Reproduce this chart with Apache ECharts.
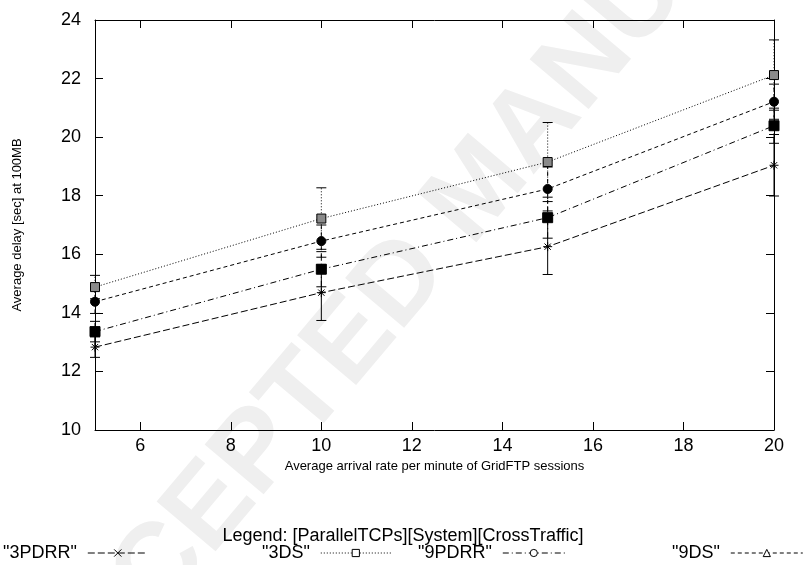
<!DOCTYPE html>
<html>
<head>
<meta charset="utf-8">
<script src="https://cdn.jsdelivr.net/npm/echarts@6/dist/echarts.min.js"></script>
<style>
html, body { margin: 0; padding: 0; background: #fff; }
#chart { width: 806px; height: 565px; }
</style>
</head>
<body>
<div id="chart"></div>
<script>
// arrival rate (sessions per minute)
const rates = [5, 10, 15, 20];
const xTicks = [6, 8, 10, 12, 14, 16, 18, 20];
const seriesNames = ['"3PDRR"', '"3DS"', '"9PDRR"', '"9DS"'];

// average delay [sec]
const delay3PDRR = [12.83, 14.69, 16.26, 19.04];
const delay3DS = [14.88, 17.22, 19.15, 22.12];
const delay9PDRR = [13.36, 15.49, 17.25, 20.39];
const delay9DS = [14.38, 16.45, 18.23, 21.21];

// half width of the error bars
const err3PDRR = [0.35, 0.95, 0.95, 1.05];
const err3DS = [0.4, 1.05, 1.35, 1.2];
const err9PDRR = [0.35, 0.6, 0.7, 0.6];
const err9DS = [0.4, 0.55, 0.75, 0.6];

const font = 'Liberation Sans, Arial, sans-serif';
const asterisk = 'path://M0,5L10,5M5,0L5,10M1.5,1.5L8.5,8.5M8.5,1.5L1.5,8.5';
const cross = 'path://M0,0L10,10M10,0L0,10';

// legendSymbol is what the key shows, plotSymbol what sits on the points
function lineSeries(name, data, dash, legendSymbol, plotSymbol, fill, size) {
	return {
		name: name,
		type: 'line',
		data: rates.map((x, i) => ({ value: [x, data[i]], symbol: plotSymbol })),
		symbol: legendSymbol,
		symbolSize: size,
		showAllSymbol: true,
		clip: false,
		z: 3,
		lineStyle: { color: '#000', width: 1, type: dash },
		itemStyle: { color: fill, borderColor: '#000', borderWidth: 1 }
	};
}

function errorSeries(data, errs, dash) {
	return {
		type: 'custom',
		data: rates.map((x, i) => [x, data[i] - errs[i], data[i] + errs[i]]),
		encode: { x: 0, y: [1, 2] },
		clip: false,
		z: 2,
		silent: true,
		renderItem: function (params, api) {
			let lo = api.coord([api.value(0), api.value(1)]);
			let hi = api.coord([api.value(0), api.value(2)]);
			let w = 5;
			let barStyle = { stroke: '#000', lineWidth: 1, lineDash: dash, fill: null };
			let capStyle = { stroke: '#000', lineWidth: 1, fill: null };
			return {
				type: 'group',
				children: [
					{ type: 'line', shape: { x1: lo[0], y1: lo[1], x2: hi[0], y2: hi[1] }, style: barStyle },
					{ type: 'line', shape: { x1: lo[0] - w, y1: lo[1], x2: lo[0] + w, y2: lo[1] }, style: capStyle },
					{ type: 'line', shape: { x1: hi[0] - w, y1: hi[1], x2: hi[0] + w, y2: hi[1] }, style: capStyle }
				]
			};
		}
	};
}

function legendAt(name, left, iconW) {
	return {
		data: [name],
		left: left,
		top: 544,
		padding: 0,
		align: 'right',
		itemWidth: iconW,
		itemHeight: 9,
		itemGap: 0,
		itemStyle: { color: '#fff', borderColor: '#000', borderWidth: 1 },
		lineStyle: { width: 1, color: '#000' },
		textStyle: { fontFamily: font, fontSize: 18, color: '#000', padding: [0, 6, 0, 0] },
		selectedMode: false
	};
}

let mychart = echarts.init(document.getElementById('chart'));
let option = {
	animation: false,
	backgroundColor: '#fff',
	graphic: [{
		type: 'text',
		x: 480,
		y: 190,
		rotation: 0.87,
		z: -10,
		silent: true,
		style: {
			text: 'ACCEPTED MANUSCRIPT',
			font: 'bold 112px ' + font,
			fill: '#efefef',
			align: 'center',
			verticalAlign: 'middle'
		}
	}, {
		type: 'text',
		left: 'center',
		top: 527,
		style: {
			text: 'Legend: [ParallelTCPs][System][CrossTraffic]',
			font: '18px ' + font,
			fill: '#000'
		}
	}],
	grid: { left: 95, right: 32, top: 20, bottom: 135 },
	legend: [
		legendAt(seriesNames[0], 3, 60),
		legendAt(seriesNames[1], 262, 70),
		legendAt(seriesNames[2], 418, 62),
		legendAt(seriesNames[3], 672, 72)
	],
	xAxis: [{
		type: 'value',
		min: 5,
		max: 20,
		name: 'Average arrival rate per minute of GridFTP sessions',
		nameLocation: 'middle',
		nameGap: 24,
		nameTextStyle: { fontFamily: font, fontSize: 13, color: '#000' },
		axisLine: { lineStyle: { color: '#000', width: 1 } },
		axisTick: { inside: true, length: 8, customValues: xTicks, lineStyle: { color: '#000' } },
		axisLabel: { customValues: xTicks, fontFamily: font, fontSize: 18, color: '#000', margin: 7 },
		splitLine: { show: false }
	}, {
		type: 'value',
		position: 'top',
		min: 5,
		max: 20,
		axisLine: { lineStyle: { color: '#000', width: 1 } },
		axisTick: { inside: true, length: 8, customValues: xTicks, lineStyle: { color: '#000' } },
		axisLabel: { show: false },
		splitLine: { show: false }
	}],
	yAxis: [{
		type: 'value',
		min: 10,
		max: 24,
		interval: 2,
		name: 'Average delay [sec] at 100MB',
		nameLocation: 'middle',
		nameGap: 71,
		nameTextStyle: { fontFamily: font, fontSize: 13, color: '#000' },
		axisLine: { show: true, lineStyle: { color: '#000', width: 1 } },
		axisTick: { show: true, inside: true, length: 8, lineStyle: { color: '#000' } },
		axisLabel: { fontFamily: font, fontSize: 18, color: '#000', margin: 14 },
		splitLine: { show: false }
	}, {
		type: 'value',
		position: 'right',
		min: 10,
		max: 24,
		interval: 2,
		axisLine: { show: true, lineStyle: { color: '#000', width: 1 } },
		axisTick: { show: true, inside: true, length: 8, lineStyle: { color: '#000' } },
		axisLabel: { show: false },
		splitLine: { show: false }
	}],
	series: [
		errorSeries(delay3PDRR, err3PDRR, null),
		errorSeries(delay3DS, err3DS, [1, 2]),
		errorSeries(delay9PDRR, err9PDRR, [6, 3, 1, 3]),
		errorSeries(delay9DS, err9DS, [4, 3]),
		lineSeries(seriesNames[0], delay3PDRR, [7, 3], cross, asterisk, 'none', 9),
		lineSeries(seriesNames[1], delay3DS, [1, 2], 'rect', 'rect', '#8a8a8a', 9),
		lineSeries(seriesNames[2], delay9PDRR, [6, 3, 1, 3], 'circle', 'rect', '#000', 10),
		lineSeries(seriesNames[3], delay9DS, [4, 3], 'triangle', 'circle', '#000', 9)
	]
};

mychart.setOption(option);
</script>
</body>
</html>
